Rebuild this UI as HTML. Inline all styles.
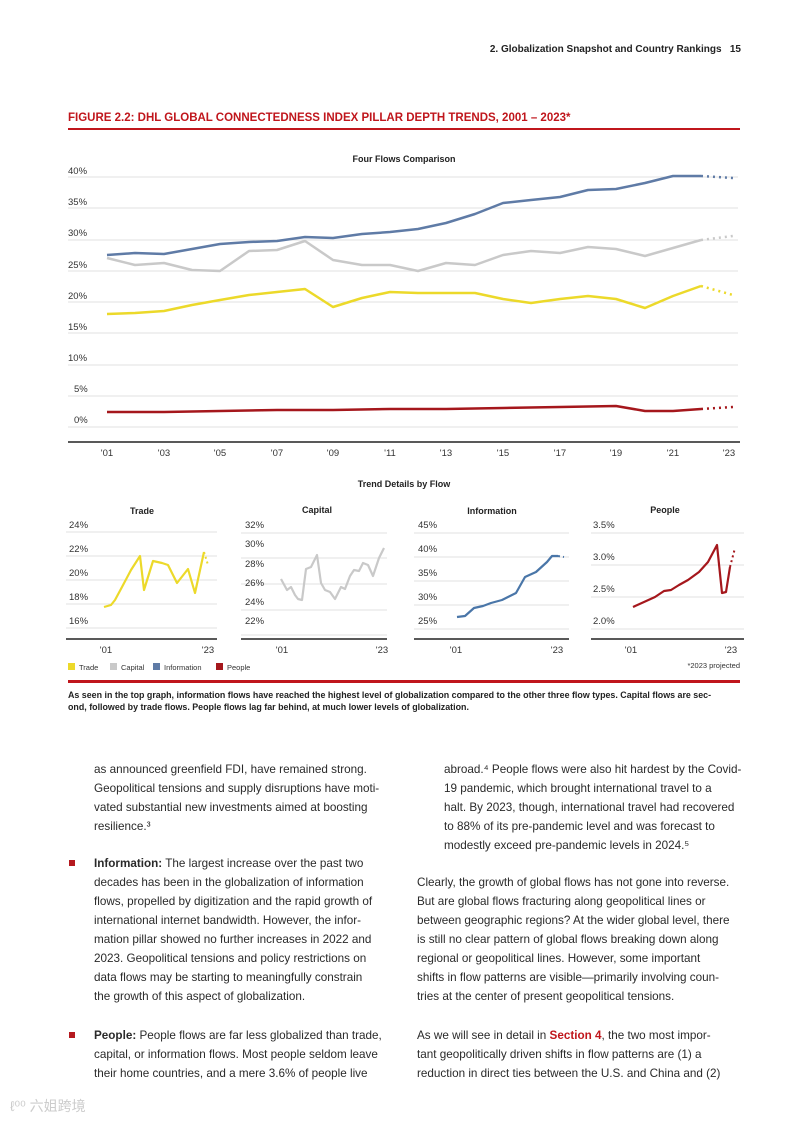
<!DOCTYPE html>
<html><head><meta charset="utf-8"><style>
body{margin:0;background:#fff;width:793px;height:1121px;position:relative;overflow:hidden;font-family:"Liberation Sans","Noto Sans CJK SC",sans-serif;color:#222}
.a{position:absolute;white-space:nowrap}
.b{font-weight:bold}
.body{font-size:11.7px;line-height:19px;color:#2a2a2a}
.sq{position:absolute;width:6px;height:6px;background:#b5191f}
</style></head><body>
<div class="a b" style="right:52px;top:44px;font-size:10px">2. Globalization Snapshot and Country Rankings &nbsp;&nbsp;15</div>
<div class="a b" style="left:68px;top:112px;font-size:11.5px;color:#c0161c">FIGURE 2.2: DHL GLOBAL CONNECTEDNESS INDEX PILLAR DEPTH TRENDS, 2001 – 2023*</div>
<div class="a" style="left:68px;top:128px;width:672px;height:2px;background:#c0161c"></div>

<svg class="a" style="left:0;top:0" width="793" height="720" font-family="Liberation Sans, sans-serif">
<text x="404" y="162" font-size="9" font-weight="bold" text-anchor="middle" fill="#222">Four Flows Comparison</text>
<g stroke="#e2e2e2" stroke-width="1">
<line x1="68" x2="738" y1="177" y2="177"/><line x1="68" x2="738" y1="208" y2="208"/><line x1="68" x2="738" y1="240" y2="240"/><line x1="68" x2="738" y1="271" y2="271"/><line x1="68" x2="738" y1="302" y2="302"/><line x1="68" x2="738" y1="333" y2="333"/><line x1="68" x2="738" y1="365" y2="365"/><line x1="68" x2="738" y1="396" y2="396"/><line x1="68" x2="738" y1="427" y2="427"/>
</g>
<line x1="68" x2="740" y1="442" y2="442" stroke="#222" stroke-width="1.5"/>
<g font-size="9.5" fill="#333">
<text x="68" y="174">40%</text><text x="68" y="205">35%</text><text x="68" y="236">30%</text><text x="68" y="268">25%</text><text x="68" y="299">20%</text><text x="68" y="330">15%</text><text x="68" y="361">10%</text><text x="74" y="392">5%</text><text x="74" y="423">0%</text>
</g>
<g font-size="9.5" fill="#333" text-anchor="middle">
<text x="107" y="456">'01</text><text x="164" y="456">'03</text><text x="220" y="456">'05</text><text x="277" y="456">'07</text><text x="333" y="456">'09</text><text x="390" y="456">'11</text><text x="446" y="456">'13</text><text x="503" y="456">'15</text><text x="560" y="456">'17</text><text x="616" y="456">'19</text><text x="673" y="456">'21</text><text x="729" y="456">'23</text>
</g>
<g fill="none" stroke-width="2.5" stroke-linejoin="round">
<polyline stroke="#5f7ba6" points="107,255 135,253 164,254 192,249 220,244 249,242 277,241 305,237 333,238 362,234 390,232 418,229 446,223 475,214 503,203 531,200 560,197 588,190 616,189 645,183 673,176 701,176"/>
<polyline stroke="#c9c9c9" points="107,258 135,265 164,263 192,270 220,271 249,251 277,250 305,241 333,260 362,265 390,265 418,271 446,263 475,265 503,255 531,251 560,253 588,247 616,249 645,256 673,248 701,240"/>
<polyline stroke="#ecd92a" points="107,314 135,313 164,311 192,305 220,300 249,295 277,292 305,289 333,307 362,298 390,292 418,293 446,293 475,293 503,299 531,303 560,299 588,296 616,299 645,308 673,296 701,286"/>
<polyline stroke="#a5171c" points="107,412 164,412 220,411 277,410 333,410 390,409 446,409 503,408 560,407 616,406 645,411 673,411 701,409"/>
</g>
<g fill="none" stroke-width="2.5" stroke-dasharray="2,4">
<polyline stroke="#5f7ba6" points="701,176 733,178"/>
<polyline stroke="#c9c9c9" points="701,240 733,236"/>
<polyline stroke="#ecd92a" points="701,286 733,295"/>
<polyline stroke="#a5171c" points="701,409 733,407"/>
</g>
<text x="404" y="487" font-size="9" font-weight="bold" text-anchor="middle" fill="#222">Trend Details by Flow</text>

<g font-size="9" font-weight="bold" text-anchor="middle" fill="#222">
<text x="142" y="514">Trade</text><text x="317" y="513">Capital</text><text x="492" y="514">Information</text><text x="665" y="513">People</text>
</g>
<g stroke="#e2e2e2">
<line x1="66" x2="217" y1="532" y2="532"/><line x1="66" x2="217" y1="556" y2="556"/><line x1="66" x2="217" y1="580" y2="580"/><line x1="66" x2="217" y1="604" y2="604"/><line x1="66" x2="217" y1="628" y2="628"/>
<line x1="241" x2="387" y1="533" y2="533"/><line x1="241" x2="387" y1="558" y2="558"/><line x1="241" x2="387" y1="584" y2="584"/><line x1="241" x2="387" y1="610" y2="610"/><line x1="241" x2="387" y1="635" y2="635"/>
<line x1="414" x2="569" y1="533" y2="533"/><line x1="414" x2="569" y1="557" y2="557"/><line x1="414" x2="569" y1="581" y2="581"/><line x1="414" x2="569" y1="605" y2="605"/><line x1="414" x2="569" y1="629" y2="629"/>
<line x1="591" x2="744" y1="533" y2="533"/><line x1="591" x2="744" y1="565" y2="565"/><line x1="591" x2="744" y1="597" y2="597"/><line x1="591" x2="744" y1="629" y2="629"/>
</g>
<g stroke="#222" stroke-width="1.5">
<line x1="66" x2="217" y1="639" y2="639"/><line x1="241" x2="387" y1="639" y2="639"/><line x1="414" x2="569" y1="639" y2="639"/><line x1="591" x2="744" y1="639" y2="639"/>
</g>
<g font-size="9.5" fill="#333">
<text x="69" y="528">24%</text><text x="69" y="552">22%</text><text x="69" y="576">20%</text><text x="69" y="600">18%</text><text x="69" y="624">16%</text>
<text x="245" y="528">32%</text><text x="245" y="547">30%</text><text x="245" y="567">28%</text><text x="245" y="586">26%</text><text x="245" y="605">24%</text><text x="245" y="624">22%</text>
<text x="418" y="528">45%</text><text x="418" y="552">40%</text><text x="418" y="576">35%</text><text x="418" y="600">30%</text><text x="418" y="624">25%</text>
<text x="593" y="528">3.5%</text><text x="593" y="560">3.0%</text><text x="593" y="592">2.5%</text><text x="593" y="624">2.0%</text>
</g>
<g font-size="9.5" fill="#333" text-anchor="middle">
<text x="106" y="653">'01</text><text x="208" y="653">'23</text><text x="282" y="653">'01</text><text x="382" y="653">'23</text><text x="456" y="653">'01</text><text x="557" y="653">'23</text><text x="631" y="653">'01</text><text x="731" y="653">'23</text>
</g>
<g fill="none" stroke-width="2.2" stroke-linejoin="round">
<polyline stroke="#ecd92a" points="104,607 111,605 115,600 122,587 131,570 140,556 144,590 153,561 162,563 168,565 177,583 188,569 195,593 204,552"/>
<polyline stroke="#c9c9c9" points="281,579 287,590 291,587 295,595 298,599 302,600 306,569 311,567 317,555 321,583 325,590 330,592 335,599 341,587 345,589 350,576 354,570 359,571 363,563 368,565 373,576 379,558 384,548"/>
<polyline stroke="#4a76a8" points="457,617 465,616 474,608 483,606 491,603 502,600 516,593 525,577 536,572 547,562 552,556 558,556"/>
<polyline stroke="#a5171c" points="633,607 644,602 655,597 664,591 671,590 679,585 688,580 699,572 708,562 717,545 722,593 726,592 730,567"/>
</g>
<g fill="none" stroke-width="2" stroke-dasharray="2,3">
<polyline stroke="#ecd92a" points="204,552 208,565"/>
<polyline stroke="#4a76a8" points="558,556 564,557"/>
<polyline stroke="#a5171c" points="730,567 735,548"/>
</g>
<g font-size="7.5" fill="#333">
<rect x="68" y="663" width="7" height="7" fill="#ecd92a"/><text x="79" y="670">Trade</text>
<rect x="110" y="663" width="7" height="7" fill="#c9c9c9"/><text x="121" y="670">Capital</text>
<rect x="153" y="663" width="7" height="7" fill="#5f7ba6"/><text x="164" y="670">Information</text>
<rect x="216" y="663" width="7" height="7" fill="#a5171c"/><text x="227" y="670">People</text>
<text x="740" y="668" text-anchor="end">*2023 projected</text>
</g>
</svg>
<div class="a" style="left:68px;top:680px;width:672px;height:3px;background:#c0161c"></div>
<div class="a b" style="left:68px;top:689px;font-size:8.9px;line-height:12px;color:#222">As seen in the top graph, information flows have reached the highest level of globalization compared to the other three flow types. Capital flows are sec-<br>ond, followed by trade flows. People flows lag far behind, at much lower levels of globalization.</div>

<div class="a body" style="left:94px;top:760px">as announced greenfield FDI, have remained strong.<br>Geopolitical tensions and supply disruptions have moti-<br>vated substantial new investments aimed at boosting<br>resilience.³</div>
<div class="sq" style="left:69px;top:860px"></div>
<div class="a body" style="left:94px;top:854px"><b>Information:</b> The largest increase over the past two<br>decades has been in the globalization of information<br>flows, propelled by digitization and the rapid growth of<br>international internet bandwidth. However, the infor-<br>mation pillar showed no further increases in 2022 and<br>2023. Geopolitical tensions and policy restrictions on<br>data flows may be starting to meaningfully constrain<br>the growth of this aspect of globalization.</div>
<div class="sq" style="left:69px;top:1032px"></div>
<div class="a body" style="left:94px;top:1026px"><b>People:</b> People flows are far less globalized than trade,<br>capital, or information flows. Most people seldom leave<br>their home countries, and a mere 3.6% of people live</div>

<div class="a body" style="left:444px;top:760px">abroad.⁴ People flows were also hit hardest by the Covid-<br>19 pandemic, which brought international travel to a<br>halt. By 2023, though, international travel had recovered<br>to 88% of its pre-pandemic level and was forecast to<br>modestly exceed pre-pandemic levels in 2024.⁵</div>
<div class="a body" style="left:417px;top:873px">Clearly, the growth of global flows has not gone into reverse.<br>But are global flows fracturing along geopolitical lines or<br>between geographic regions? At the wider global level, there<br>is still no clear pattern of global flows breaking down along<br>regional or geopolitical lines. However, some important<br>shifts in flow patterns are visible—primarily involving coun-<br>tries at the center of present geopolitical tensions.</div>
<div class="a body" style="left:417px;top:1026px">As we will see in detail in <b style="color:#c0161c">Section 4</b>, the two most impor-<br>tant geopolitically driven shifts in flow patterns are (1) a<br>reduction in direct ties between the U.S. and China and (2)</div>
<div class="a" style="left:10px;top:1096px;font-size:14px;color:#ccc">ℓ⁰⁰ 六姐跨境</div>
</body></html>
